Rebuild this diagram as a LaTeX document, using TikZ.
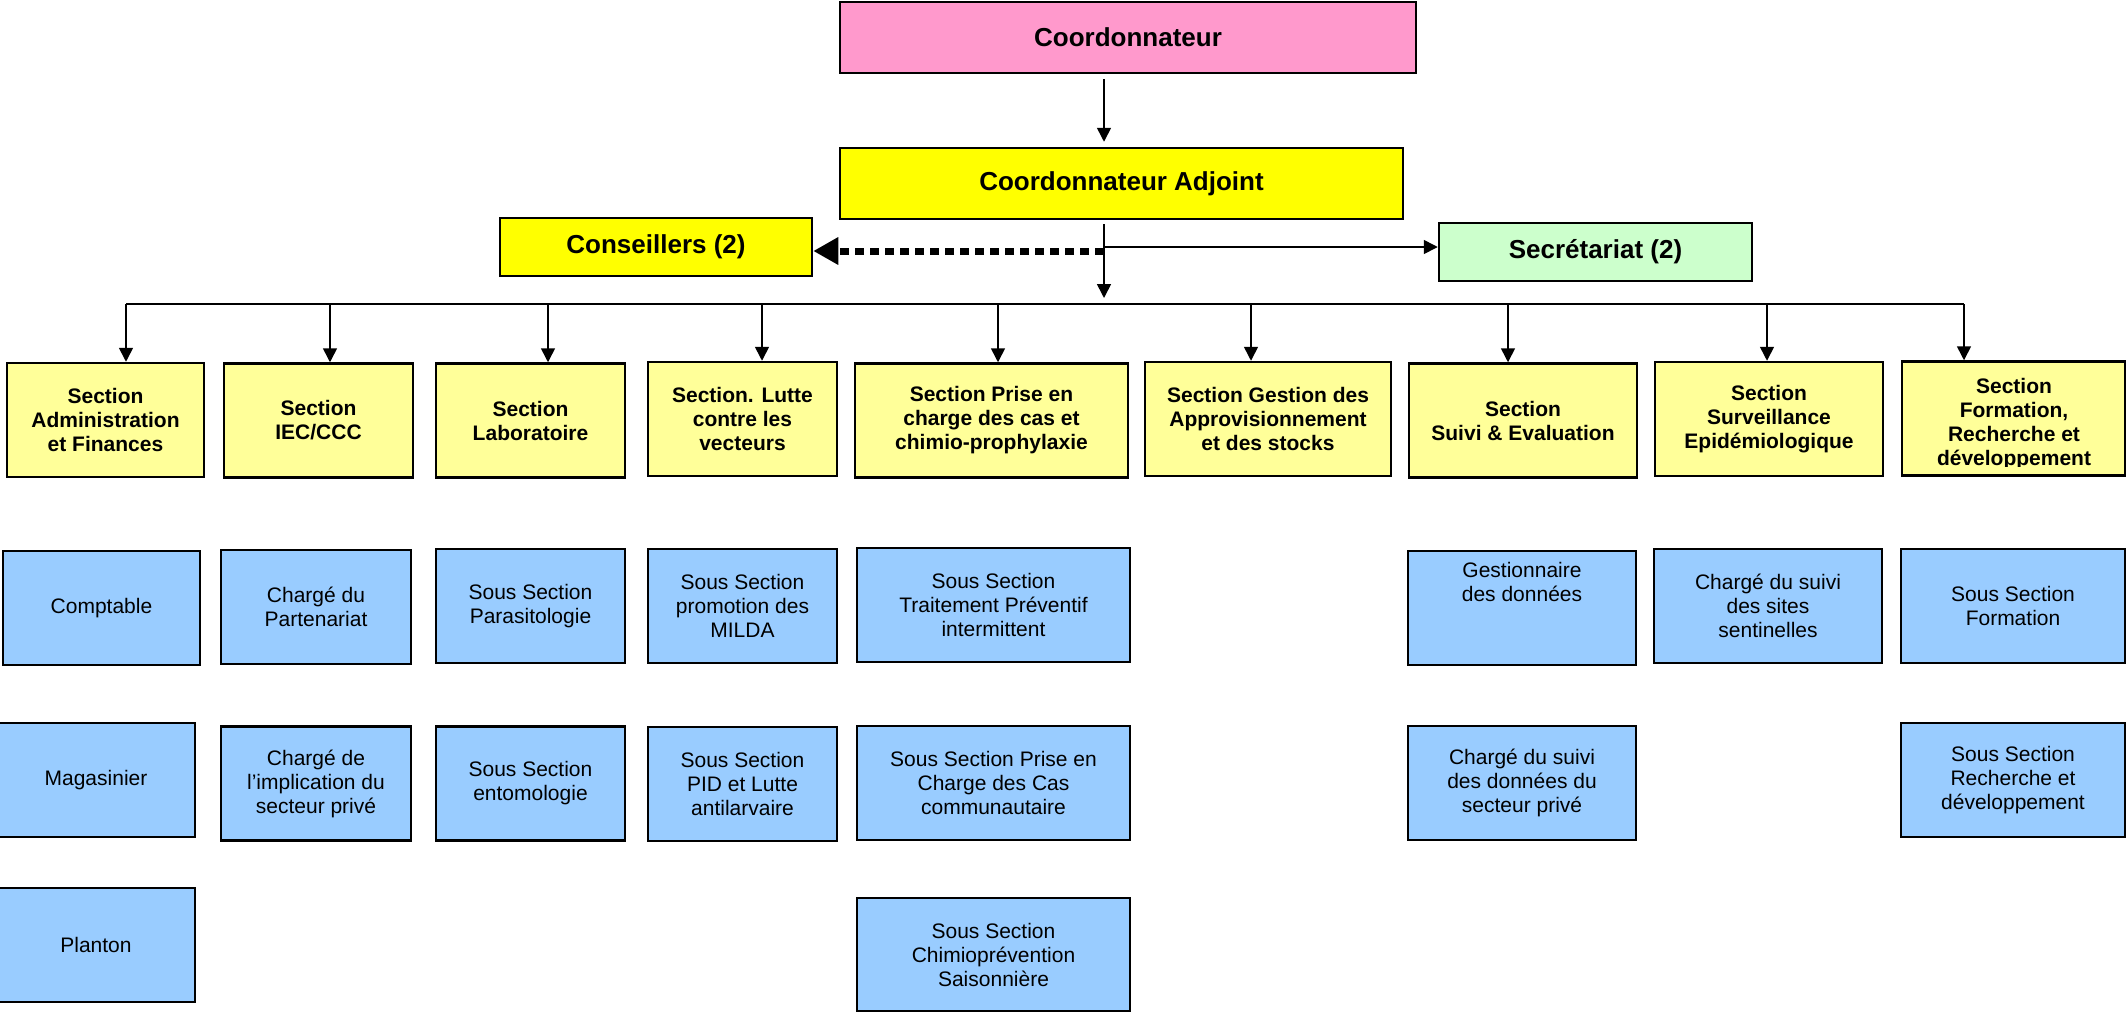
\documentclass[tikz,border=0pt]{standalone}
\usepackage{fontspec}
\setmainfont{Liberation Sans}
\usetikzlibrary{arrows.meta}
\definecolor{pinkc}{HTML}{FF99CC}
\definecolor{yelc}{HTML}{FFFF00}
\definecolor{greenc}{HTML}{CCFFCC}
\definecolor{secc}{HTML}{FFFF99}
\definecolor{bluec}{HTML}{99CCFF}
\begin{document}
\begin{tikzpicture}[x=0.5pt,y=-0.5pt,
  box/.style={draw=black, line width=1.25pt, rectangle, inner sep=0pt, align=center,
              font=\fontsize{10.5}{12}\selectfont},
  topbox/.style={box, font=\fontsize{13}{15}\selectfont\bfseries},
  secbox/.style={box, fill=secc, font=\fontsize{10.5}{12}\selectfont\bfseries, minimum height=57pt},
  subbox/.style={box, fill=bluec, minimum height=57pt},
  conn/.style={line width=0.8pt},
  arr/.style={conn, -{Triangle[width=7pt,length=7pt]}},
  dotarr/.style={line width=3.5pt, dash pattern=on 4.5pt off 3pt, -{Triangle[width=13pt,length=12.5pt]}}
]
\useasboundingbox (0,0) rectangle (2127,1013);
\fill[white] (0,0) rectangle (2127,1013);

% top level
\node[topbox, fill=pinkc, minimum width=288pt, minimum height=35.5pt] (coord) at (1128,37.5) {Coordonnateur};
\node[topbox, fill=yelc, minimum width=281.5pt, minimum height=35.5pt] (adj) at (1121.5,183.5) {Coordonnateur Adjoint};
\node[topbox, fill=yelc, minimum width=156pt, minimum height=29pt] (cons) at (656,247) {Conseillers (2)};
\node[topbox, fill=greenc, minimum width=156.5pt, minimum height=29pt] (secr) at (1595.5,252) {Secrétariat (2)};

% sections
\node[secbox, minimum width=98.5pt] (s1) at (105.5,420) {Section\\Administration\\et Finances};
\node[secbox, minimum width=94.5pt] (s2) at (318.5,420.5) {Section\\IEC/CCC};
\node[secbox, minimum width=94.5pt] (s3) at (530.5,420.5) {Section\\Laboratoire};
\node[secbox, minimum width=94.5pt] (s4) at (742.5,419) {Section. Lutte\\contre les\\vecteurs};
\node[secbox, minimum width=136.5pt] (s5) at (991.5,420.5) {Section Prise en\\charge des cas et\\chimio-prophylaxie};
\node[secbox, minimum width=123pt] (s6) at (1268,419) {Section Gestion des\\Approvisionnement\\et des stocks};
\node[secbox, minimum width=114pt] (s7) at (1523,420.5) {Section\\Suivi \& Evaluation};
\node[secbox, minimum width=114pt] (s8) at (1769,419) {Section\\Surveillance\\Epidémiologique};
\node[secbox, minimum width=111.5pt] (s9) at (2013.5,418.5) {};
\begin{scope}
  \clip (1902,361) rectangle (2125,466);
  \node[font=\fontsize{10.5}{12}\selectfont\bfseries, align=center, inner sep=0pt] (s9t) at (2014,424) {Section\\Formation,\\Recherche et\\développement};
\end{scope}

% sub units, row 1
\node[subbox, minimum width=98.5pt] (c11) at (101.5,608) {Comptable};
\node[subbox, minimum width=95pt] (c21) at (316,607) {Chargé du\\Partenariat};
\node[subbox, minimum width=94.5pt] (c31) at (530.5,606) {Sous Section\\Parasitologie};
\node[subbox, minimum width=94.5pt] (c41) at (742.5,606) {Sous Section\\promotion des\\MILDA};
\node[subbox, minimum width=136.5pt] (c51) at (993.5,605) {Sous Section\\Traitement Préventif\\intermittent};
\node[subbox, minimum width=114pt] (c71) at (1522,608) {Gestionnaire\\des données\\[11pt]\strut};
\node[subbox, minimum width=114pt] (c81) at (1768,606) {Chargé du suivi\\des sites\\sentinelles};
\node[subbox, minimum width=112pt] (c91) at (2013,606) {Sous Section\\Formation};

% row 2
\node[subbox, minimum width=99pt] (c12) at (96,780) {Magasinier};
\node[subbox, minimum width=95pt] (c22) at (316,783.5) {Chargé de\\l’implication du\\secteur privé};
\node[subbox, minimum width=94.5pt] (c32) at (530.5,783.5) {Sous Section\\entomologie};
\node[subbox, minimum width=94.5pt] (c42) at (742.5,784) {Sous Section\\PID et Lutte\\antilarvaire};
\node[subbox, minimum width=136.5pt] (c52) at (993.5,783) {Sous Section Prise en\\Charge des Cas\\communautaire};
\node[subbox, minimum width=114pt] (c72) at (1522,783) {Chargé du suivi\\des données du\\secteur privé};
\node[subbox, minimum width=112pt] (c92) at (2013,780) {Sous Section\\Recherche et\\développement};

% row 3
\node[subbox, minimum width=99pt] (c13) at (96,945) {Planton};
\node[subbox, minimum width=136.5pt, minimum height=56.5pt] (c53) at (993.5,954.5) {Sous Section\\Chimioprévention\\Saisonnière};

% connectors
\coordinate (spine) at (1104,0);
\coordinate (bus) at (1104,304);
\coordinate (bl) at (126,304);
\coordinate (br) at (1964,304);
\draw[arr] ([yshift=-2.5pt]coord.south -| spine) -- ([yshift=2.5pt]adj.north -| spine);
\draw[arr] ([yshift=-2pt]adj.south -| spine) -- ([yshift=3pt]bus);
\draw[conn] (bl) -- (br);

\coordinate (b1) at (126,304);
\coordinate (b2) at (330,304);
\coordinate (b3) at (548,304);
\coordinate (b4) at (762,304);
\coordinate (b5) at (998,304);
\coordinate (b6) at (1251,304);
\coordinate (b7) at (1508,304);
\coordinate (b8) at (1767,304);
\coordinate (b9) at (1964,304);
\foreach \i in {1,...,9} {\draw[arr] (b\i) -- (b\i |- s\i.north);}

\coordinate (sj) at (1104,247);
\draw[arr] (sj) -- (sj -| secr.west);
\coordinate (dj) at (1104,251);
\draw[dotarr] (dj) -- (dj -| cons.east);
\end{tikzpicture}
\end{document}
